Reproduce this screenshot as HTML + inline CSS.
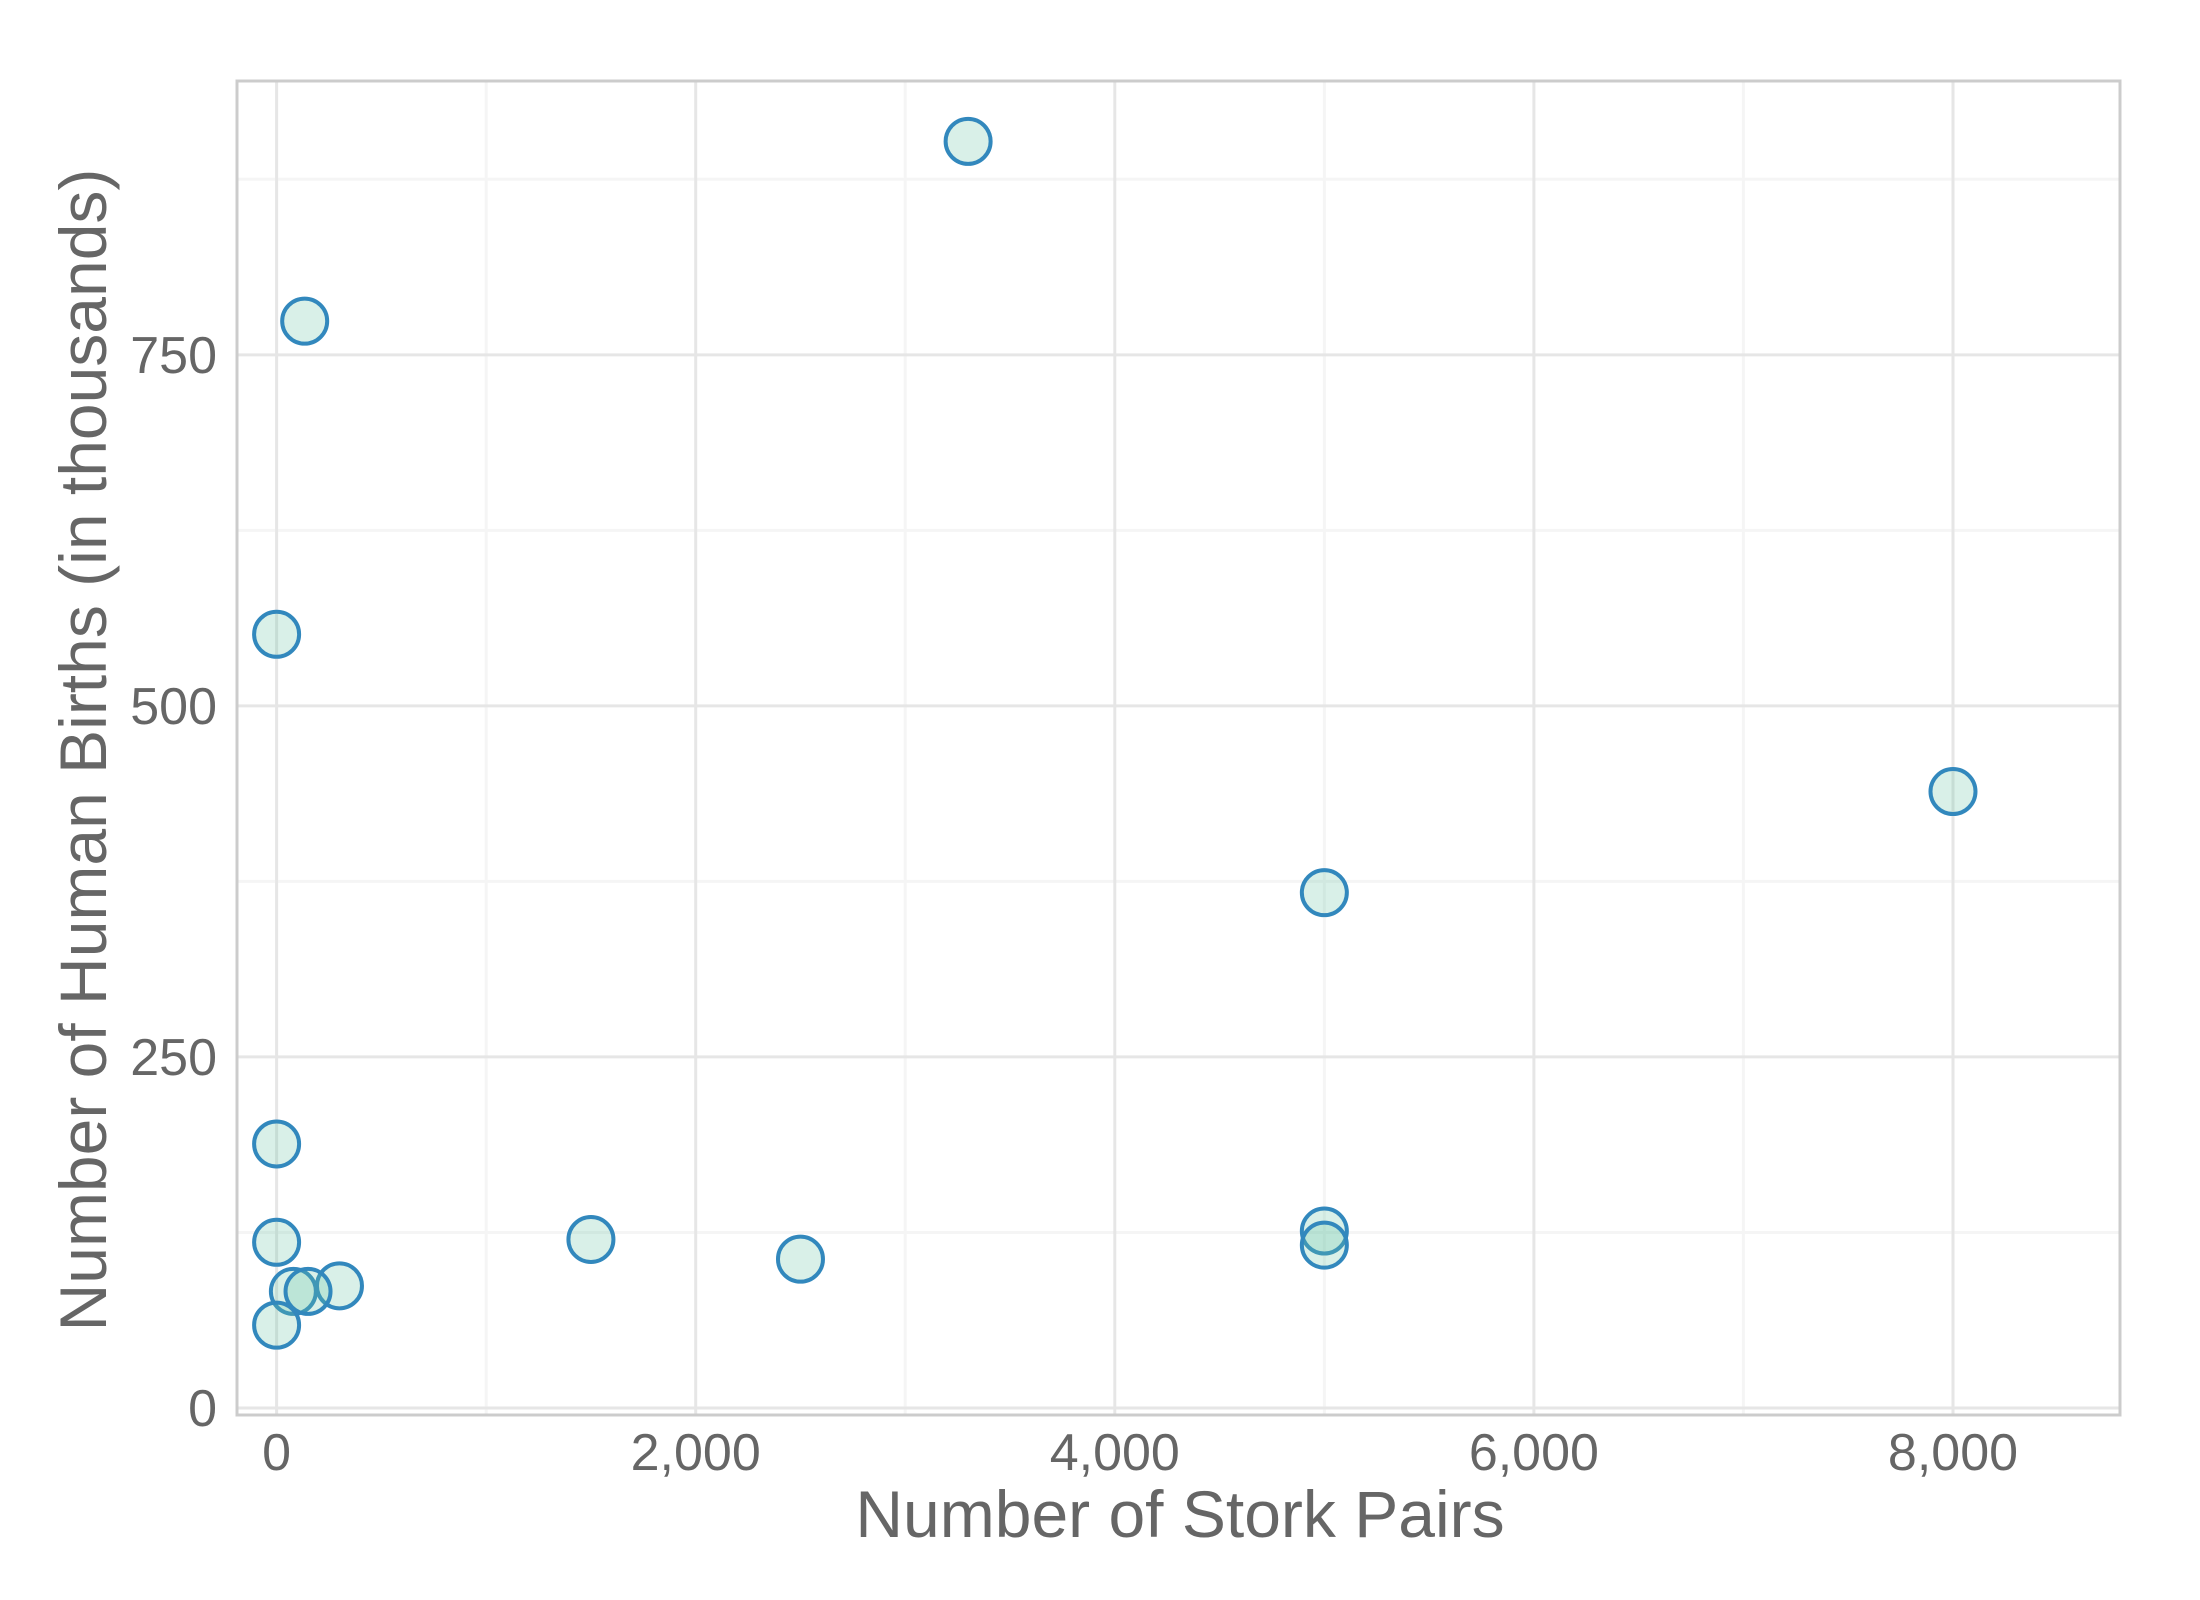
<!DOCTYPE html>
<html><head><meta charset="utf-8"><style>
html,body{margin:0;padding:0;background:#fff;}
svg{display:block;font-family:"Liberation Sans",sans-serif;}
</style></head><body>
<svg id="chart" width="2200" height="1600" viewBox="0 0 2200 1600" xmlns="http://www.w3.org/2000/svg">
<g id="grid"></g>
<g id="points"></g>
<rect x="237" y="81" width="1883" height="1334" fill="none" stroke="#cccccc" stroke-width="3"/>
<g id="ticks"></g>
<text x="1180" y="1537" text-anchor="middle" font-size="66" fill="#666666">Number of Stork Pairs</text>
<text transform="translate(106,750) rotate(-90)" text-anchor="middle" font-size="66" fill="#666666">Number of Human Births (in thousands)</text>
</svg>
<script>
const storks = [3300, 134, 0, 8000, 5000, 0, 0, 1500, 2500, 5000, 5000, 300, 80, 150, 0];
const births = [902, 774, 551, 439, 367, 188, 118, 120, 106, 126, 116, 87, 83, 83, 59];
const xTicks = [0, 2000, 4000, 6000, 8000];
const xTickLabels = ["0", "2,000", "4,000", "6,000", "8,000"];
const yTicks = [0, 250, 500, 750];
const yTickLabels = ["0", "250", "500", "750"];
const xMinor = [1000, 3000, 5000, 7000];
const yMinor = [125, 375, 625, 875];

const L=237,R=2120,T=81,B=1415;
const xMin=-189,xMax=8797,yMin=-5,yMax=945;
const sx=v=>L+(v-xMin)/(xMax-xMin)*(R-L);
const sy=v=>B-(v-yMin)/(yMax-yMin)*(B-T);
const NS="http://www.w3.org/2000/svg";
function mk(tag,attrs,parent){const e=document.createElementNS(NS,tag);for(const k in attrs)e.setAttribute(k,attrs[k]);parent.appendChild(e);return e;}
const grid=document.getElementById('grid'),pts=document.getElementById('points'),ticks=document.getElementById('ticks');
xMinor.forEach(v=>{const e=mk('line',{x1:sx(v),x2:sx(v),y1:T,y2:B,stroke:'#f5f5f5','stroke-width':3},grid);

});
yMinor.forEach(v=>{const e=mk('line',{x1:L,x2:R,y1:sy(v),y2:sy(v),stroke:'#f5f5f5','stroke-width':3},grid);

});
xTicks.forEach((v,i)=>{const e=mk('line',{x1:sx(v),x2:sx(v),y1:T,y2:B,stroke:'#e6e6e6','stroke-width':3},grid);


const t=mk('text',{x:sx(v),y:1470,'text-anchor':'middle','font-size':52,fill:'#666666'},ticks);t.textContent=xTickLabels[i];

});
yTicks.forEach((v,i)=>{const e=mk('line',{x1:L,x2:R,y1:sy(v),y2:sy(v),stroke:'#e6e6e6','stroke-width':3},grid);


const t=mk('text',{x:217,y:sy(v)+18,'text-anchor':'end','font-size':52,fill:'#666666'},ticks);t.textContent=yTickLabels[i];

});
storks.forEach((v,i)=>{const c=mk('circle',{cx:sx(v),cy:sy(births[i]),r:22.5,fill:'rgba(102,194,165,0.25)',stroke:'#3288bd','stroke-width':4},pts);

});
</script>
</body></html>
